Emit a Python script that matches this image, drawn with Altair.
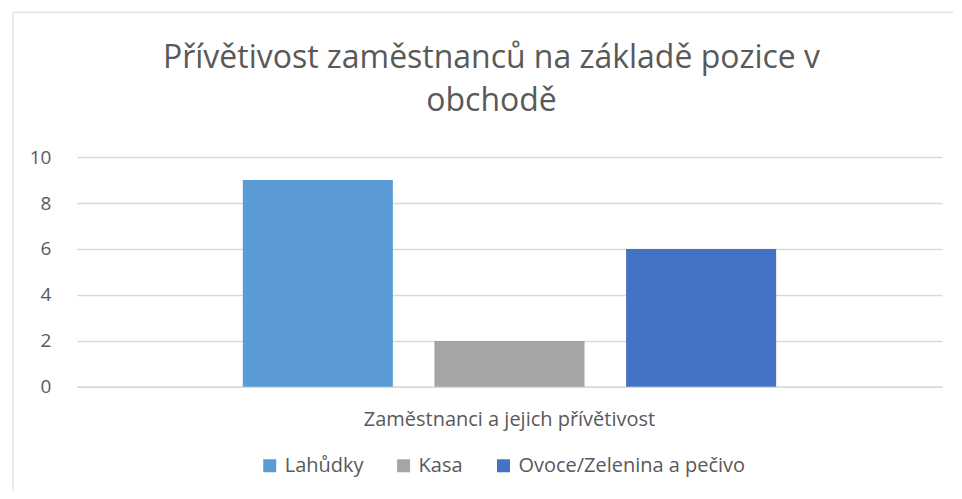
import altair as alt
import pandas as pd

# data
kategorie = ["Zaměstnanci a jejich přívětivost"]
pozice = ["Lahůdky", "Kasa", "Ovoce/Zelenina a pečivo"]
hodnoty = [9, 2, 6]
barvy = ["#5B9BD5", "#A5A5A5", "#4472C4"]
y_ticks = [0, 2, 4, 6, 8, 10]
titulek = ["Přívětivost zaměstnanců na základě pozice v", "obchodě"]

df = pd.DataFrame({
    "kategorie": kategorie * len(pozice),
    "pozice": pozice,
    "hodnota": hodnoty,
})

W, H = 866, 230
FONT = "Open Sans"
TXT = "#595959"
GRID = "#D9D9D9"

bars = alt.Chart(df).mark_bar().encode(
    x=alt.X("kategorie:N", title=None,
            scale=alt.Scale(paddingInner=0, paddingOuter=0.311),
            axis=alt.Axis(labelAngle=0, ticks=False, domainColor=GRID, domainWidth=1.5,
                          labelFontSize=20, labelColor=TXT, labelFont=FONT, labelPadding=23,
                          labelLimit=500)),
    xOffset=alt.XOffset("pozice:N", sort=pozice,
                        scale=alt.Scale(paddingInner=0.217, paddingOuter=0)),
    y=alt.Y("hodnota:Q", title=None,
            scale=alt.Scale(domain=[0, 10], nice=False),
            axis=alt.Axis(values=y_ticks, domain=False, ticks=False, gridColor=GRID,
                          gridWidth=1.5, labelFontSize=19, labelColor=TXT, labelFont=FONT,
                          labelPadding=26)),
    color=alt.Color("pozice:N", sort=pozice,
                    scale=alt.Scale(domain=pozice, range=barvy),
                    legend=alt.Legend(title=None, orient="none", direction="horizontal",
                                      legendX=183, legendY=299, symbolType="square",
                                      symbolSize=169, symbolStrokeWidth=0, symbolOpacity=1,
                                      labelFontSize=20, labelFont=FONT, labelColor=TXT,
                                      columnPadding=30, labelOffset=5, labelLimit=400)),
)

frame = alt.Chart(alt.Data(values=[{}])).mark_rule(color=GRID, strokeWidth=1)
top_rule = frame.encode(x=alt.value(-64), x2=alt.value(877), y=alt.value(-145))
left_rule = frame.encode(x=alt.value(-64), y=alt.value(-145), y2=alt.value(334))

title = alt.Chart(alt.Data(values=[{}])).mark_text(
    font=FONT, fontSize=32, color=TXT, lineHeight=43, align="center", baseline="middle"
).encode(x=alt.value(415), y=alt.value(-99), text=alt.value(titulek))

chart = alt.layer(top_rule, left_rule, title, bars).properties(
    width=W, height=H,
    padding={"left": 4, "top": 3, "right": 0, "bottom": 0},
).configure_view(stroke=None)

chart.save("out.html", embed_options={"renderer": "svg", "actions": False})
